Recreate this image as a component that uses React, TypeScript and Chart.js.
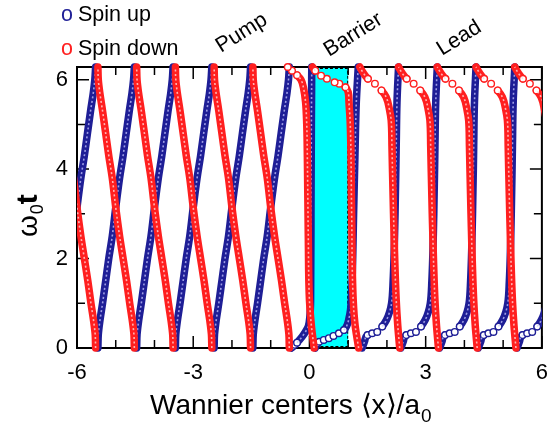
import React, { useEffect, useRef } from "react";
import { Chart, registerables } from "chart.js";

Chart.register(...registerables);

// ---------- axis values ----------
const T_MAX = 6.2832; // 2*pi, top of the time axis
const xMajorTicks = [-6, -3, 0, 3, 6];
const xMinorTicks = [-5, -4, -2, -1, 1, 2, 4, 5];
const yMajorTicks = [0, 2, 4, 6];
const yMinorTicks = [1, 3, 5];
const barrierRange = [0, 1];

const legendLabels = ["Spin up", "Spin down"];
const regionLabels = ["Pump", "Barrier", "Lead"];

// ---------- pump region (x < 0): offsets from each lattice site ----------
const pumpSites = [-6, -5, -4, -3, -2, -1];
const pumpT = [0, 0.3, 0.6, 1.0, 1.5, 2.0, 2.5, 3.14, 3.8, 4.3, 4.8, 5.3, 5.7, 6.0, 6.283];
const pumpUpShift = [-0.46, -0.45, -0.41, -0.34, -0.26, -0.18, -0.09, 0, 0.1, 0.19, 0.27, 0.35, 0.42, 0.46, 0.48];
const pumpDownShift = [0.48, 0.47, 0.43, 0.36, 0.28, 0.19, 0.1, 0, -0.09, -0.18, -0.26, -0.34, -0.41, -0.45, -0.46];

// ---------- curves at the left edge of the barrier ----------
const edgeUpT = [0, 0.03, 0.07, 0.12, 0.25, 0.38, 0.48, 0.7, 1.07, 3.0, 5.0, 6.283];
const edgeUpX = [-0.47, -0.44, -0.38, -0.32, -0.19, -0.09, -0.03, 0.01, 0.03, 0.04, 0.05, 0.06];
const edgeDownT = [0, 0.5, 1.07, 2.5, 4.0, 5.0, 5.5, 5.8, 6.0, 6.1, 6.2, 6.283];
const edgeDownX = [0.12, 0.05, 0.0, -0.03, -0.05, -0.07, -0.1, -0.15, -0.22, -0.32, -0.45, -0.56];

// ---------- curves inside the barrier ----------
const barrierUpT = [0, 0.1, 0.14, 0.18, 0.22, 0.27, 0.33, 0.4, 0.51, 0.66, 0.85, 1.5, 3.0, 4.5, 5.5, 6.283];
const barrierUpX = [0.15, 0.2, 0.25, 0.37, 0.5, 0.62, 0.76, 0.89, 0.97, 1.02, 1.06, 1.1, 1.14, 1.18, 1.21, 1.26];
const barrierDownT = [0, 0.5, 1.07, 3.0, 5.09, 5.5, 5.72, 5.83, 5.91, 5.94, 6.02, 6.09, 6.2, 6.283];
const barrierDownX = [1.27, 1.18, 1.13, 1.09, 1.05, 1.02, 1.0, 0.93, 0.77, 0.65, 0.45, 0.3, 0.15, 0.08];

// ---------- lead region (x > 1): offsets from each cell origin ----------
const leadCells = [1, 2, 3, 4, 5];
const leadUpT = [0, 0.14, 0.29, 0.33, 0.36, 0.48, 0.63, 0.81, 1.0, 1.5, 3.0, 4.5, 5.5, 6.283];
const leadUpShift = [0.36, 0.42, 0.5, 0.62, 0.75, 0.88, 0.99, 1.07, 1.12, 1.16, 1.21, 1.24, 1.26, 1.3];
const leadDownT = [0, 0.5, 1.07, 3.0, 4.5, 5.09, 5.31, 5.61, 5.76, 5.91, 6.02, 6.15, 6.283];
const leadDownShift = [1.33, 1.28, 1.24, 1.17, 1.13, 1.11, 1.07, 0.98, 0.86, 0.69, 0.51, 0.39, 0.3];

// ---------- styles ----------
const FONT = "'Liberation Sans', Arial, Helvetica, sans-serif";
const BLUE = "#1e1e96";
const RED = "#ff1f1f";
const BLUE_SPECK = "rgba(200,200,255,0.75)";
const RED_SPECK = "rgba(255,215,215,0.8)";
const CLIP = { left: 0, right: 0, top: 5, bottom: 5 };

type Pt = { x: number; y: number };
function pts(ts: number[], xs: number[], shift = 0): Pt[] {
  return ts.map((t, i) => ({ x: xs[i] + shift, y: t }));
}

function flatPx(ax: number, ay: number, bx: number, by: number) {
  return Math.abs(bx - ax) > 0.9 * Math.abs(by - ay);
}

function isFlat(c: any) {
  return flatPx(c.p0.x, c.p0.y, c.p1.x, c.p1.y);
}

function markerRadius(c: any) {
  const d = c.dataset.data as Pt[];
  const i = c.dataIndex;
  const xs = c.chart.scales.x;
  const ys = c.chart.scales.y;
  if (!xs || !ys || !d) return 0;
  const f = (a: Pt, b: Pt) =>
    flatPx(xs.getPixelForValue(a.x), ys.getPixelForValue(a.y), xs.getPixelForValue(b.x), ys.getPixelForValue(b.y));
  const flat = (i > 0 && f(d[i - 1], d[i])) || (i < d.length - 1 && f(d[i], d[i + 1]));
  return flat ? 3.3 : 0;
}

function curveSets(data: Pt[], color: string, speck: string, markers: boolean, layer: number) {
  return [
    {
      data,
      showLine: true,
      borderColor: color,
      borderWidth: 7.5,
      borderCapStyle: "round",
      borderJoinStyle: "round",
      segment: { borderColor: (c: any) => (markers && isFlat(c) ? "rgba(0,0,0,0)" : undefined) },
      pointRadius: markers ? markerRadius : 0,
      pointBackgroundColor: "#ffffff",
      pointBorderColor: color,
      pointBorderWidth: 1.4,
      cubicInterpolationMode: "monotone",
      clip: CLIP,
      order: layer + 1,
    },
    {
      data,
      showLine: true,
      borderColor: speck,
      borderWidth: 1.6,
      borderDash: [2, 2.5],
      segment: { borderColor: (c: any) => (markers && isFlat(c) ? "rgba(0,0,0,0)" : undefined) },
      pointRadius: 0,
      cubicInterpolationMode: "monotone",
      clip: CLIP,
      order: layer,
    },
  ];
}

function buildDatasets() {
  const sets: any[] = [];
  // spin up (blue) underneath
  pumpSites.forEach((s) => sets.push(...curveSets(pts(pumpT, pumpUpShift, s), BLUE, BLUE_SPECK, false, 3)));
  sets.push(...curveSets(pts(edgeUpT, edgeUpX), BLUE, BLUE_SPECK, true, 3));
  sets.push(...curveSets(pts(barrierUpT, barrierUpX), BLUE, BLUE_SPECK, true, 3));
  leadCells.forEach((n) => sets.push(...curveSets(pts(leadUpT, leadUpShift, n), BLUE, BLUE_SPECK, true, 3)));
  // spin down (red) on top
  pumpSites.forEach((s) => sets.push(...curveSets(pts(pumpT, pumpDownShift, s), RED, RED_SPECK, false, 1)));
  sets.push(...curveSets(pts(edgeDownT, edgeDownX), RED, RED_SPECK, true, 1));
  sets.push(...curveSets(pts(barrierDownT, barrierDownX), RED, RED_SPECK, true, 1));
  leadCells.forEach((n) => sets.push(...curveSets(pts(leadDownT, leadDownShift, n), RED, RED_SPECK, true, 1)));
  return sets;
}

const framePlugin = {
  id: "frame",
  beforeDatasetsDraw(chart: any) {
    const { ctx, chartArea: a, scales } = chart;
    const xs = scales.x;
    const ys = scales.y;
    ctx.save();
    // barrier
    const bx0 = xs.getPixelForValue(barrierRange[0]);
    const bx1 = xs.getPixelForValue(barrierRange[1]);
    ctx.fillStyle = "#00ffff";
    ctx.fillRect(bx0, a.top, bx1 - bx0, a.bottom - a.top);
    ctx.setLineDash([3, 2]);
    ctx.strokeStyle = "#000";
    ctx.lineWidth = 1;
    ctx.strokeRect(bx0 + 0.5, a.top + 1.5, bx1 - bx0 - 1, a.bottom - a.top - 3);
    ctx.setLineDash([]);
    // ticks
    ctx.lineWidth = 1.5;
    ctx.beginPath();
    const xt = (v: number, len: number) => {
      const p = xs.getPixelForValue(v);
      ctx.moveTo(p, a.bottom);
      ctx.lineTo(p, a.bottom - len);
      ctx.moveTo(p, a.top);
      ctx.lineTo(p, a.top + len);
    };
    const yt = (v: number, len: number) => {
      const p = ys.getPixelForValue(v);
      ctx.moveTo(a.left, p);
      ctx.lineTo(a.left + len, p);
      ctx.moveTo(a.right, p);
      ctx.lineTo(a.right - len, p);
    };
    xMajorTicks.forEach((v) => xt(v, 12));
    xMinorTicks.forEach((v) => xt(v, 8));
    yMajorTicks.forEach((v) => yt(v, 12));
    yMinorTicks.forEach((v) => yt(v, 8));
    ctx.stroke();
    // frame
    ctx.lineWidth = 2;
    ctx.strokeRect(a.left, a.top, a.right - a.left, a.bottom - a.top);
    ctx.restore();
  },
};

const textPlugin = {
  id: "texts",
  afterDraw(chart: any) {
    const { ctx } = chart;
    ctx.save();
    ctx.textAlign = "left";
    ctx.textBaseline = "alphabetic";
    // legend
    ctx.font = `21.5px ${FONT}`;
    ctx.fillStyle = BLUE;
    ctx.fillText("o", 61, 21);
    ctx.fillStyle = "#000";
    ctx.fillText(legendLabels[0], 78, 21);
    ctx.fillStyle = RED;
    ctx.fillText("o", 61, 55);
    ctx.fillStyle = "#000";
    ctx.fillText(legendLabels[1], 78, 55);
    // region labels
    const spots = [
      [221, 53],
      [329, 57],
      [442, 56],
    ];
    ctx.font = `21.5px ${FONT}`;
    regionLabels.forEach((lbl, i) => {
      ctx.save();
      ctx.translate(spots[i][0], spots[i][1]);
      ctx.rotate((-32 * Math.PI) / 180);
      ctx.fillText(lbl, 0, 0);
      ctx.restore();
    });
    // x title
    ctx.font = `28px ${FONT}`;
    const main = "Wannier centers \u27E8x\u27E9/a";
    ctx.fillText(main, 150, 414);
    const w = ctx.measureText(main).width;
    ctx.font = `19px ${FONT}`;
    ctx.fillText("0", 150 + w + 1, 422);
    // y title
    ctx.save();
    ctx.translate(37, 237);
    ctx.rotate(-Math.PI / 2);
    ctx.font = `28px ${FONT}`;
    ctx.fillText("\u03C9", 0, 0);
    const ww = ctx.measureText("\u03C9").width;
    ctx.font = `18px ${FONT}`;
    ctx.fillText("0", ww + 1, 6);
    const w0 = ctx.measureText("0").width;
    ctx.font = `bold 30px ${FONT}`;
    ctx.fillText("t", ww + w0 + 1, 0);
    ctx.restore();
    ctx.restore();
  },
};

export default function App() {
  const ref = useRef<HTMLCanvasElement | null>(null);
  useEffect(() => {
    if (!ref.current) return;
    const chart = new Chart(ref.current, {
      type: "scatter",
      data: { datasets: buildDatasets() },
      options: {
        responsive: false,
        animation: false,
        devicePixelRatio: 1,
        indexAxis: "y",
        events: [],
        layout: { padding: { left: 0, right: 16, top: 67, bottom: 0 } },
        plugins: { legend: { display: false }, tooltip: { enabled: false } },
        scales: {
          x: {
            type: "linear",
            position: "bottom",
            min: -6,
            max: 6,
            grid: { display: false, drawTicks: false },
            border: { display: false },
            ticks: { font: { family: FONT, size: 22 }, color: "#000", padding: 12, maxRotation: 0, autoSkip: false },
            afterBuildTicks: (s: any) => {
              s.ticks = xMajorTicks.map((v) => ({ value: v }));
            },
            afterFit: (s: any) => {
              s.height = 74;
            },
          },
          y: {
            type: "linear",
            position: "left",
            min: 0,
            max: T_MAX,
            grid: { display: false, drawTicks: false },
            border: { display: false },
            ticks: { font: { family: FONT, size: 22 }, color: "#000", padding: 9, autoSkip: false },
            afterBuildTicks: (s: any) => {
              s.ticks = yMajorTicks.map((v) => ({ value: v }));
            },
            afterFit: (s: any) => {
              s.width = 77;
            },
          },
        },
      } as any,
      plugins: [framePlugin, textPlugin],
    });
    return () => chart.destroy();
  }, []);
  return (
    <div style={{ position: "fixed", left: 0, top: 0, width: 560, height: 422, background: "#fff" }}>
      <canvas ref={ref} width={560} height={422} style={{ display: "block" }} />
    </div>
  );
}
